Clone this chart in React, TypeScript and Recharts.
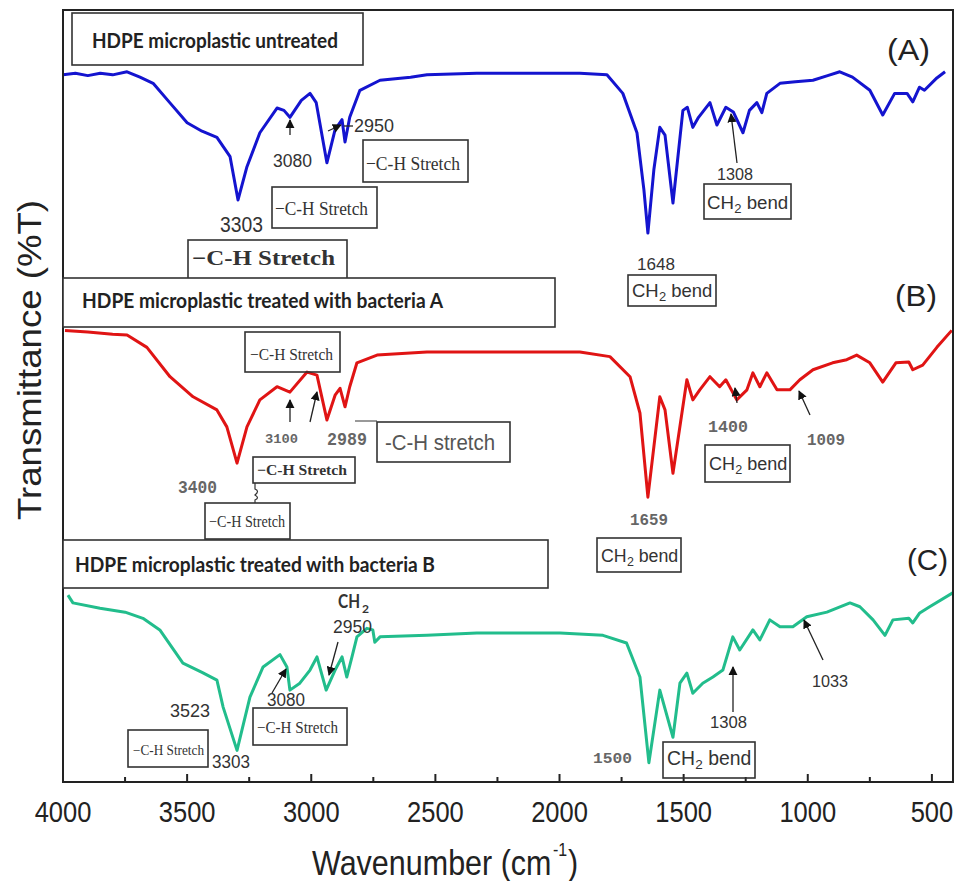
import React from 'react';
import { LineChart, Line, XAxis, YAxis } from 'recharts';

// wavenumbers (cm-1) and transmittance, stacked with offsets
const waveA = [4000, 3950, 3900, 3850, 3800, 3742, 3690, 3637, 3570, 3500, 3440, 3380, 3327, 3295, 3259, 3207, 3138, 3110, 3086, 3040, 3005, 2980, 2937, 2904, 2876, 2864, 2845, 2804, 2723, 2600, 2534, 2333, 2150, 1918, 1809, 1745, 1688, 1660, 1644, 1620, 1596, 1575, 1543, 1520, 1503, 1485, 1463, 1440, 1394, 1366, 1330, 1300, 1261, 1235, 1205, 1185, 1165, 1112, 1050, 979, 920, 871, 820, 750, 698, 650, 600, 577, 550, 530, 480, 447];
const transA = [91.6, 91.8, 91.5, 91.8, 91.6, 92.0, 91.3, 90.5, 88.0, 85.4, 84.3, 83.5, 81.0, 75.4, 79.7, 84.1, 87.3, 87.0, 86.1, 88.3, 89.2, 88.0, 80.2, 84.5, 85.8, 82.9, 86.1, 89.6, 90.9, 91.3, 91.6, 91.8, 91.8, 91.8, 91.6, 89.2, 84.1, 76.7, 71.1, 79.3, 84.8, 83.8, 75.0, 81.9, 87.0, 87.4, 84.8, 86.1, 88.0, 85.1, 87.4, 86.8, 84.1, 87.0, 88.0, 86.7, 89.2, 90.5, 90.7, 90.9, 91.5, 92.0, 91.3, 89.6, 86.4, 89.2, 89.2, 88.1, 90.0, 89.6, 91.2, 92.0];

const waveB = [3992, 3900, 3800, 3742, 3662, 3569, 3476, 3380, 3340, 3299, 3259, 3207, 3138, 3086, 3017, 2977, 2937, 2904, 2884, 2864, 2845, 2816, 2735, 2534, 2159, 1918, 1797, 1716, 1676, 1644, 1596, 1575, 1543, 1487, 1463, 1435, 1394, 1355, 1330, 1286, 1245, 1221, 1193, 1165, 1124, 1072, 1032, 979, 900, 843, 803, 750, 698, 645, 593, 577, 537, 480, 420];
const transB = [58.5, 58.3, 58.0, 57.9, 56.3, 52.5, 49.9, 48.2, 46.0, 41.3, 46.0, 49.5, 51.2, 50.5, 53.1, 52.7, 46.9, 50.1, 51.0, 48.6, 51.2, 54.3, 55.3, 55.7, 55.7, 55.7, 55.1, 52.5, 47.8, 36.9, 49.9, 48.2, 40.0, 52.1, 49.5, 50.8, 52.5, 51.2, 52.1, 49.5, 50.8, 53.0, 51.2, 53.0, 50.8, 50.8, 52.1, 53.4, 54.3, 54.7, 55.3, 54.3, 51.8, 54.3, 54.4, 53.4, 54.0, 56.3, 58.5];

const waveC = [3980, 3960, 3851, 3750, 3678, 3610, 3517, 3440, 3380, 3355, 3299, 3247, 3194, 3126, 3098, 3086, 3046, 3005, 2977, 2940, 2904, 2876, 2857, 2836, 2816, 2776, 2752, 2744, 2723, 2534, 2333, 1998, 1825, 1730, 1676, 1640, 1596, 1543, 1515, 1487, 1463, 1423, 1382, 1342, 1302, 1274, 1221, 1193, 1153, 1112, 1060, 1004, 923, 830, 790, 737, 689, 657, 593, 577, 549, 509, 416];
const transC = [24.2, 23.2, 22.5, 22.0, 21.2, 19.7, 15.4, 14.2, 13.2, 9.7, 4.1, 11.0, 14.9, 16.5, 14.9, 11.9, 12.8, 14.5, 16.2, 11.9, 14.5, 16.2, 13.6, 16.2, 18.8, 19.9, 19.7, 18.1, 18.8, 19.0, 19.3, 19.3, 19.0, 18.0, 13.6, 2.5, 11.9, 5.8, 12.8, 14.1, 11.5, 12.8, 13.6, 14.5, 18.8, 17.1, 19.7, 18.4, 21.0, 20.1, 20.1, 21.4, 22.0, 23.2, 22.7, 21.0, 19.0, 21.0, 21.2, 20.6, 21.9, 22.7, 24.5];

const xTicks = [4000, 3750, 3500, 3250, 3000, 2750, 2500, 2250, 2000, 1750, 1500, 1250, 1000, 750, 500];

const toRows = (w: number[], t: number[]) => w.map((v, i) => ({ w: v, t: t[i] }));
const dataA = toRows(waveA, transA);
const dataB = toRows(waveB, transB);
const dataC = toRows(waveC, transC);

const SANS = '"Liberation Sans", Arial, sans-serif';
const SERIF = '"Liberation Serif", "Times New Roman", serif';
const MONO = '"Liberation Mono", "Courier New", monospace';
const TITLE = 'Lato, "Open Sans", sans-serif';

const W = 957;
const H = 881;

const WaveTick = (props: any) => {
  const { x, y, payload } = props;
  const major = payload.value % 500 === 0;
  return (
    <g>
      <line x1={x} x2={x} y1={y} y2={y - (major ? 8 : 5)} stroke="#222" strokeWidth={2} />
      {major && (
        <text transform={`translate(${x},${y + 40}) scale(1,1.16)`} textAnchor="middle" fontSize={25.5}
          fontFamily={SANS} fill="#222">
          {payload.value}
        </text>
      )}
    </g>
  );
};

const Txt = ({ x, y, w, size, font = SANS, weight = 400, fill = '#333', children }: any) => (
  <text x={x} y={y} fontSize={size} fontFamily={font} fontWeight={weight} fill={fill}
    textLength={w} lengthAdjust="spacingAndGlyphs">
    {children}
  </text>
);

const Box = ({ x, y, w, h, fill = 'none' }: any) => (
  <rect x={x} y={y} width={w} height={h} fill={fill} stroke="#333" strokeWidth={1.6} />
);

const Arrow = ({ x1, y1, x2, y2 }: any) => (
  <line x1={x1} y1={y1} x2={x2} y2={y2} stroke="#222" strokeWidth={1.3} markerEnd="url(#ah)" />
);

// "CH2 bend" with a lowered 2; font size chosen so the natural width is w
const Bend = ({ x, y, w }: any) => {
  const fs = w / 4.33;
  return (
    <g fontFamily={SANS} fill="#333">
      <text x={x} y={y} fontSize={fs}>CH</text>
      <text x={x + fs * 1.46} y={y + fs * 0.22} fontSize={fs * 0.7}>2</text>
      <text x={x + fs * 1.85 + fs * 0.27} y={y} fontSize={fs}>bend</text>
    </g>
  );
};

const Stretch = ({ x, y, w, size, weight = 400 }: any) => (
  <Txt x={x} y={y} w={w} size={size} font={SERIF} weight={weight} fill="#333">−C-H Stretch</Txt>
);

const Annotations = () => (
  <svg width={W} height={H} style={{ position: 'absolute', left: 0, top: 0, pointerEvents: 'none' }}>
    <defs>
      <marker id="ah" viewBox="0 0 10 10" refX="9" refY="5" markerWidth="7" markerHeight="7" orient="auto">
        <path d="M0,0 L10,5 L0,10 z" fill="#111" />
      </marker>
    </defs>
    <rect x={63} y={10} width={890} height={772} fill="none" stroke="#222" strokeWidth={2} />

    {/* axis titles */}
    <text transform="translate(41,520) rotate(-90)" fontSize={34} fontFamily={SANS} fill="#222"
      textLength={320} lengthAdjust="spacingAndGlyphs">Transmittance (%T)</text>
    <g transform="translate(312,875) scale(1,1.12)" fontFamily={SANS} fill="#222">
      <text x={0} y={0} fontSize={30.5}>Wavenumber (cm</text>
      <text x={241} y={-17} fontSize={16}>-1</text>
      <text x={256} y={0} fontSize={30.5}>)</text>
    </g>

    {/* panel A */}
    <Box x={72} y={13} w={291} h={52} fill="#fff" />
    <Txt x={92} y={48} w={246} size={21} font={TITLE} weight={700} fill="#222">HDPE microplastic untreated</Txt>
    <Txt x={887} y={60} w={43} size={30} fill="#222">(A)</Txt>
    <Arrow x1={290} y1={135} x2={290} y2={120} />
    <Txt x={273} y={167} w={39} size={18}>3080</Txt>
    <Arrow x1={328} y1={131} x2={341} y2={125} />
    <line x1={344} y1={126} x2={353} y2={126} stroke="#222" strokeWidth={1.3} />
    <Txt x={354} y={132} w={40} size={18}>2950</Txt>
    <Box x={363} y={140} w={105} h={42} />
    <Stretch x={366} y={170} w={94} size={19} />
    <Box x={272} y={187} w={105} h={41} />
    <Stretch x={275} y={215} w={93} size={19} />
    <Txt x={220} y={232} w={43} size={22}>3303</Txt>
    <Box x={188} y={240} w={159} h={40} />
    <Stretch x={192} y={265} w={143} size={21} weight={700} />
    <Txt x={637} y={270} w={38} size={17}>1648</Txt>
    <Box x={628} y={275} w={88} h={31} />
    <Bend x={632} y={297} w={80} />
    <Arrow x1={737} y1={163} x2={731} y2={114} />
    <Txt x={717} y={180} w={36} size={17}>1308</Txt>
    <Box x={704} y={184} w={87} h={35} />
    <Bend x={707} y={209} w={81} />

    {/* panel B */}
    <Box x={63} y={278} w={492} h={49} fill="#fff" />
    <Txt x={82} y={308} w={361} size={21} font={TITLE} weight={700} fill="#222">HDPE microplastic treated with bacteria A</Txt>
    <Txt x={895} y={306} w={42} size={30} fill="#222">(B)</Txt>
    <Box x={245} y={332} w={95} h={40} />
    <Stretch x={250} y={360} w={83} size={17} />
    <Arrow x1={290} y1={422} x2={290} y2={400} />
    <Arrow x1={310} y1={422} x2={317} y2={392} />
    <Txt x={265} y={443} w={33} size={13} font={MONO} weight={700} fill="#666">3100</Txt>
    <Txt x={327} y={445} w={40} size={19} font={MONO} weight={700} fill="#666">2989</Txt>
    <line x1={355} y1={421} x2={377} y2={421} stroke="#555" strokeWidth={1.2} />
    <Box x={377} y={422} w={133} h={40} />
    <Txt x={385} y={450} w={110} size={22} fill="#555">-C-H stretch</Txt>
    <Box x={253} y={457} w={102} h={26} />
    <Stretch x={257} y={475} w={90} size={15} weight={700} />
    <Txt x={178} y={493} w={39} size={18} font={MONO} weight={700} fill="#666">3400</Txt>
    <path d="M255,483 L255,489 Q260,491 255,495 Q260,498 255,500 L255,503" fill="none" stroke="#333" strokeWidth={1.2} />
    <Box x={205} y={503} w={85} h={36} />
    <Stretch x={209} y={527} w={76} size={16} />
    <Txt x={630} y={525} w={38} size={17} font={MONO} weight={700} fill="#666">1659</Txt>
    <Box x={597} y={538} w={84} h={34} />
    <Bend x={601} y={562} w={77} />
    <Arrow x1={737} y1={403} x2={735} y2={388} />
    <Txt x={708} y={432} w={40} size={17} font={MONO} weight={700} fill="#666">1400</Txt>
    <Box x={705} y={445} w={85} h={37} />
    <Bend x={709} y={470} w={78} />
    <Arrow x1={810} y1={415} x2={799} y2={391} />
    <Txt x={807} y={445} w={38} size={17} font={MONO} weight={700} fill="#666">1009</Txt>

    {/* panel C */}
    <Box x={63} y={540} w={485} h={48} fill="#fff" />
    <Txt x={75} y={572} w={360} size={21} font={TITLE} weight={700} fill="#222">HDPE microplastic treated with bacteria B</Txt>
    <Txt x={907} y={570} w={41} size={30} fill="#222">(C)</Txt>
    <Txt x={338} y={608} w={22} size={18} font={TITLE} weight={700}>CH</Txt>
    <Txt x={362} y={613} w={7} size={12} font={TITLE} weight={700}>2</Txt>
    <Txt x={333} y={633} w={39} size={18}>2950</Txt>
    <Arrow x1={338} y1={642} x2={329} y2={675} />
    <Arrow x1={272} y1={693} x2={286} y2={669} />
    <Txt x={267} y={706} w={38} size={18}>3080</Txt>
    <Box x={253} y={708} w={94} h={37} />
    <Stretch x={257} y={733} w={81} size={16} />
    <Txt x={170} y={717} w={40} size={19}>3523</Txt>
    <Box x={128} y={730} w={80} h={37} />
    <Stretch x={133} y={755} w={71} size={14} />
    <Txt x={212} y={768} w={38} size={19}>3303</Txt>
    <Txt x={593} y={763} w={39} size={15} font={MONO} weight={700} fill="#666">1500</Txt>
    <Box x={663} y={742} w={92} h={36} />
    <Bend x={667} y={765} w={84} />
    <Arrow x1={733} y1={712} x2={733} y2={667} />
    <Txt x={710} y={728} w={37} size={17}>1308</Txt>
    <Arrow x1={823} y1={660} x2={804} y2={620} />
    <Txt x={812} y={687} w={36} size={17}>1033</Txt>
  </svg>
);

export default function App() {
  return (
    <div style={{ position: 'absolute', left: 0, top: 0, width: W, height: H, background: '#fff', overflow: 'hidden' }}>
      <style>{'html { overflow: hidden; }'}</style>
      <LineChart width={W} height={H} margin={{ top: 10, right: 4, bottom: 59, left: 63 }}>
        <XAxis
          dataKey="w"
          type="number"
          domain={[415, 4000]}
          reversed
          ticks={xTicks}
          interval={0}
          allowDataOverflow
          axisLine={false}
          tickLine={false}
          tickSize={0}
          tickMargin={0}
          height={40}
          tick={<WaveTick />}
        />
        <YAxis type="number" domain={[0, 100]} hide allowDataOverflow />
        <Line data={dataA} dataKey="t" stroke="#1414cf" strokeWidth={3} dot={false} isAnimationActive={false} strokeLinejoin="round" />
        <Line data={dataB} dataKey="t" stroke="#e01414" strokeWidth={3} dot={false} isAnimationActive={false} strokeLinejoin="round" />
        <Line data={dataC} dataKey="t" stroke="#22bd8c" strokeWidth={3} dot={false} isAnimationActive={false} strokeLinejoin="round" />
      </LineChart>
      <Annotations />
    </div>
  );
}
